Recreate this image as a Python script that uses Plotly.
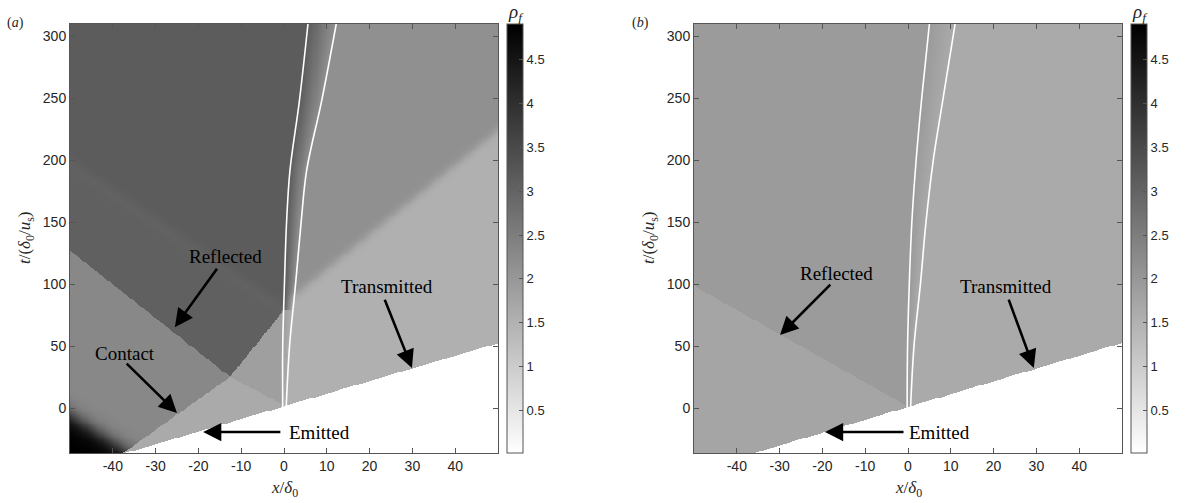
import numpy as np
import plotly.graph_objects as go

# ---------------- axes / colour limits ----------------
x_range = [-50.0, 50.0]
t_range = [-36.3, 310.0]
x_ticks = [-40, -30, -20, -10, 0, 10, 20, 30, 40]
x_ticktext = ["-40", "-30", "-20", "-10", "0", "10", "20", "30", "40"]
t_ticks = [0, 50, 100, 150, 200, 250, 300]
t_ticktext = ["0", "50", "100", "150", "200", "250", "300"]
rho_min, rho_max = 0.01, 4.91
cbar_ticks = [0.5, 1, 1.5, 2, 2.5, 3, 3.5, 4, 4.5]
cbar_ticktext = ["0.5", "1", "1.5", "2", "2.5", "3", "3.5", "4", "4.5"]

# ---------------- panel (a): wave paths in (x, t) ----------------
emitted_a_slope, emitted_a_t0 = 1.02, 1.2          # t = slope * x + t0
refl_a_x = [-50.0, -12.6, 0.0]                     # reflected shock
refl_a_t = [127.0, 25.0, 2.0]
contact_a_t = [-36.3, 25.0, 79.0]                  # contact surface
contact_a_x = [-37.5, -12.6, 0.0]
refl2_a_x = [-50.0, 0.0]                           # re-reflected wave
refl2_a_t = [197.0, 79.0]
trans_a_x = [0.0, 50.0]                            # transmitted contact wave
trans_a_t = [84.0, 224.0]
fan_a_x, fan_a_t, fan_a_slope = -37.5, -36.3, -2.2  # expansion foot

curtain_a_t = [0.0, 50.0, 100.0, 150.0, 192.0, 248.0, 310.0]
curtain_a_left = [-0.3, -0.3, 0.1, 0.6, 1.4, 3.6, 5.6]
curtain_a_right = [0.5, 1.3, 2.7, 4.0, 5.3, 8.8, 12.2]

rho_a_driver = 2.29      # left of contact, behind emitted shock
rho_a_shocked = 1.65     # between contact and emitted shock
rho_a_reflected = 3.07   # behind reflected shock
rho_a_reflected2 = 3.15  # behind re-reflected wave
rho_a_wedge = 1.86       # right of contact, behind reflected shock
rho_a_trans = 1.52       # transmitted region
rho_a_trans2 = 2.15      # behind transmitted contact wave
rho_a_peak = 4.90        # expansion corner

# ---------------- panel (b) ----------------
emitted_b_slope, emitted_b_t0 = 1.035, 0.65
refl_b_x = [-50.0, 0.0]
refl_b_t = [98.5, 1.0]
curtain_b_t = [0.0, 50.0, 100.0, 150.0, 200.0, 250.0, 310.0]
curtain_b_left = [-0.2, -0.1, 0.3, 0.9, 1.9, 3.2, 5.0]
curtain_b_right = [0.6, 1.4, 2.9, 4.2, 5.9, 8.2, 11.0]
rho_b_reflected = 1.94
rho_b_shocked = 1.73
rho_b_trans = 1.65

# ---------------- grid ----------------
xs = np.arange(x_range[0], x_range[1] + 1e-9, 0.25)
ts = np.arange(t_range[0], t_range[1] + 0.75, 0.75)
X, T = np.meshgrid(xs, ts)


def left_field_a(x, t):
    r_t = np.interp(x, refl_a_x, refl_a_t)
    c_x = np.where(t >= contact_a_t[-1], np.inf, np.interp(t, contact_a_t, contact_a_x))
    r2_t = np.interp(x, refl2_a_x, refl2_a_t)
    left_c = x < c_x
    above_r = t > r_t
    u = t - (fan_a_t + fan_a_slope * (x - fan_a_x))
    drv = rho_a_driver + (rho_a_peak - rho_a_driver) / (1.0 + np.exp((u - 3.0) / 4.5))
    refl = rho_a_reflected + (rho_a_reflected2 - rho_a_reflected) / (
        1.0 + np.exp(-(t - r2_t) / 3.0))
    refl = refl - 0.07 * np.exp(-((t - r2_t) / 7.0) ** 2)
    return np.where(left_c, np.where(above_r, refl, drv),
                    np.where(above_r, rho_a_wedge, rho_a_shocked))


def right_field_a(x, t):
    tc = np.interp(x, trans_a_x, trans_a_t)
    return rho_a_trans + (rho_a_trans2 - rho_a_trans) / (1.0 + np.exp(-(t - tc) / 2.5))


def left_field_b(x, t):
    r_t = np.interp(x, refl_b_x, refl_b_t)
    return np.where(t > r_t, rho_b_reflected, rho_b_shocked)


def right_field_b(x, t):
    return np.full_like(x, rho_b_trans)


def build(left_f, right_f, c_t, c_l, c_r, e_slope, e_t0):
    xl = np.interp(T, c_t, c_l)
    xr = np.interp(T, c_t, c_r)
    L = left_f(X, T)
    R = right_f(X, T)
    Lc = left_f(xl, T)
    Rc = right_f(xr, T)
    frac = np.clip((X - xl) / (xr - xl), 0.0, 1.0)
    Z = np.where(X < xl, L, np.where(X > xr, R, Lc * (1 - frac) + Rc * frac))
    Z = np.where(T < e_slope * X + e_t0, np.nan, Z)
    return np.round(Z, 3)


Z_a = build(left_field_a, right_field_a, curtain_a_t, curtain_a_left, curtain_a_right,
            emitted_a_slope, emitted_a_t0)
Z_b = build(left_field_b, right_field_b, curtain_b_t, curtain_b_left, curtain_b_right,
            emitted_b_slope, emitted_b_t0)

W, H = 1185, 503
dom_y = [1 - 453 / H, 1 - 24 / H]
dom_xa = [70 / W, 498 / W]
dom_xb = [694 / W, 1122 / W]

fig = go.Figure()
fig.add_trace(go.Heatmap(x=xs, y=ts, z=Z_a, coloraxis="coloraxis", xaxis="x", yaxis="y",
                         zsmooth=False, hoverinfo="skip"))
fig.add_trace(go.Heatmap(x=xs, y=ts, z=Z_b, coloraxis="coloraxis2", xaxis="x2", yaxis="y2",
                         zsmooth=False, hoverinfo="skip"))

for xa, ya, c_t, c_l, c_r in [("x", "y", curtain_a_t, curtain_a_left, curtain_a_right),
                              ("x2", "y2", curtain_b_t, curtain_b_left, curtain_b_right)]:
    for edge in (c_l, c_r):
        fig.add_trace(go.Scatter(x=edge, y=c_t, xaxis=xa, yaxis=ya, mode="lines",
                                 line=dict(color="white", width=1.6, shape="spline"),
                                 hoverinfo="skip", showlegend=False))

tick_font = dict(family="Liberation Sans, Arial, sans-serif", size=14, color="#262626")
axis_common = dict(showgrid=False, zeroline=False, showline=True, linecolor="#555555",
                   linewidth=1, mirror="allticks", ticks="inside", ticklen=5,
                   tickcolor="#555555", tickfont=tick_font)

cscale = [[0.0, "#ffffff"], [1.0, "#000000"]]


def cbar(x_px):
    return dict(x=x_px / W, xanchor="left", xpad=0, ypad=0, y=dom_y[0], yanchor="bottom",
                len=dom_y[1] - dom_y[0], lenmode="fraction", thickness=16,
                thicknessmode="pixels", outlinecolor="#555555", outlinewidth=1,
                ticks="inside", ticklen=4, tickcolor="#555555", tickvals=cbar_ticks,
                ticktext=cbar_ticktext, tickfont=dict(tick_font, size=13))


fig.update_layout(
    width=W, height=H, margin=dict(l=0, r=0, t=0, b=0),
    paper_bgcolor="white", plot_bgcolor="white", showlegend=False,
    font=tick_font,
    xaxis=dict(axis_common, domain=dom_xa, range=x_range, tickvals=x_ticks,
               ticktext=x_ticktext, anchor="y"),
    yaxis=dict(axis_common, domain=dom_y, range=t_range, tickvals=t_ticks,
               ticktext=t_ticktext, anchor="x"),
    xaxis2=dict(axis_common, domain=dom_xb, range=x_range, tickvals=x_ticks,
                ticktext=x_ticktext, anchor="y2"),
    yaxis2=dict(axis_common, domain=dom_y, range=t_range, tickvals=t_ticks,
                ticktext=t_ticktext, anchor="x2"),
    coloraxis=dict(colorscale=cscale, cmin=rho_min, cmax=rho_max, colorbar=cbar(507)),
    coloraxis2=dict(colorscale=cscale, cmin=rho_min, cmax=rho_max, colorbar=cbar(1131)),
)

serif = "Liberation Serif, Times New Roman, serif"
label_font = dict(family=serif, size=19, color="black")

# text labels and arrows, in data coordinates
labels = [
    ("x", "y", "Reflected", -13.6, 122.6, (-15.4, 113.7), (-25.5, 65.3)),
    ("x", "y", "Contact", -37.1, 44.4, (-37.1, 37.0), (-25.0, -4.0)),
    ("x", "y", "Transmitted", 24.1, 98.4, (23.4, 88.7), (29.9, 32.3)),
    ("x", "y", "Emitted", 8.4, -19.4, (-0.5, -19.4), (-18.9, -19.4)),
    ("x2", "y2", "Reflected", -16.8, 108.9, (-17.8, 100.8), (-29.9, 58.9)),
    ("x2", "y2", "Transmitted", 23.0, 98.4, (23.4, 88.7), (29.4, 32.3)),
    ("x2", "y2", "Emitted", 7.4, -19.4, (-0.7, -19.4), (-19.4, -19.4)),
]
for xr_, yr_, txt, tx, ty, tail, head in labels:
    fig.add_annotation(x=tx, y=ty, xref=xr_, yref=yr_, text=txt, showarrow=False,
                       xanchor="center", yanchor="middle", font=label_font)
    fig.add_annotation(x=head[0], y=head[1], ax=tail[0], ay=tail[1], xref=xr_, yref=yr_,
                       axref=xr_, ayref=yr_, text="", showarrow=True, arrowhead=2,
                       arrowsize=1.4, arrowwidth=2.6, arrowcolor="black",
                       standoff=0, startstandoff=0)


def paper_text(px, py, text, font, angle=0):
    fig.add_annotation(x=px / W, y=1 - py / H, xref="paper", yref="paper", text=text,
                       showarrow=False, xanchor="center", yanchor="middle",
                       textangle=angle, font=font)


title_font = dict(family=serif, size=17, color="#262626")
for cx in (284, 908):
    paper_text(cx, 489, "<i>x</i>/<i>δ</i><sub>0</sub>", title_font)
for cx in (26, 650):
    paper_text(cx, 238, "<i>t</i>/(<i>δ</i><sub>0</sub>/<i>u</i><sub>s</sub>)", title_font,
               angle=-90)
for cx, lab in ((15, "(<i>a</i>)"), (640, "(<i>b</i>)")):
    paper_text(cx, 23, lab, dict(family=serif, size=14, color="#262626"))
for cx in (516, 1140):
    paper_text(cx, 13, "<i>ρ</i><sub><i>f</i></sub>",
               dict(family=serif, size=19, color="#262626"))

fig.write_html("out.html")
